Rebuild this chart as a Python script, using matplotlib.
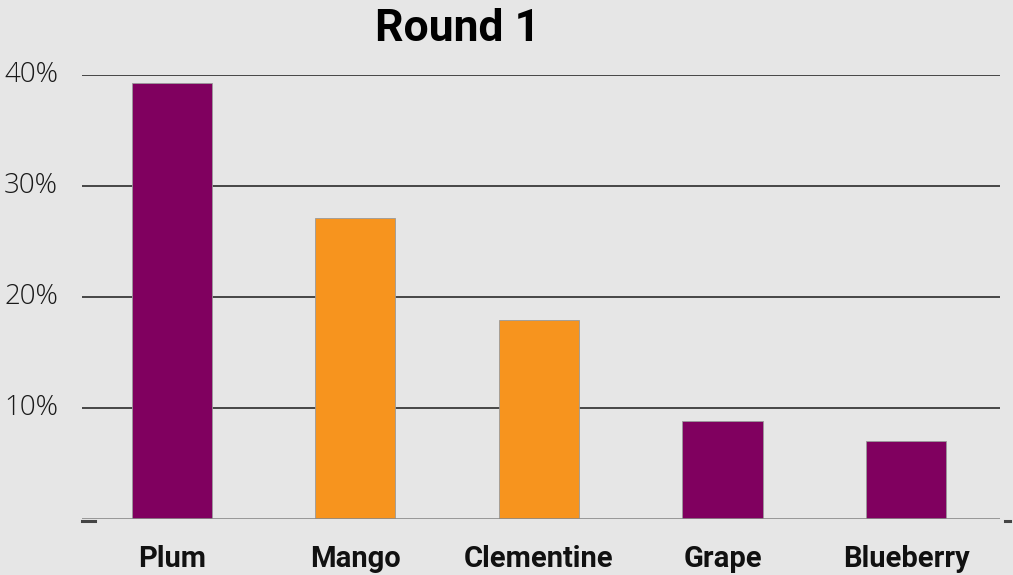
import matplotlib
matplotlib.use("Agg")
import matplotlib.pyplot as plt

categories = ["Plum", "Mango", "Clementine", "Grape", "Blueberry"]
values = [39.3, 27.1, 17.9, 8.8, 7.0]
bar_colors = ["#80005f", "#f7941e", "#f7941e", "#80005f", "#80005f"]
yticks = [10, 20, 30, 40]
ytick_labels = ["10%", "20%", "30%", "40%"]
title = "Round 1"

bg = "#e6e6e6"
fig = plt.figure(figsize=(10.13, 5.75), dpi=100, facecolor=bg)
ax = fig.add_axes([82/1013, 1-519/575, (1000-82)/1013, (519-75)/575])
ax.set_facecolor(bg)

x = list(range(len(categories)))
ax.bar(x, values, width=0.436, color=bar_colors, edgecolor="#9a9a9a", linewidth=0.6, zorder=3)
ax.set_xlim(-0.490, 4.512)
ax.set_ylim(0, 40)

for v in yticks:
    ax.axhline(v, color="#3a3a3a", linewidth=1.3, zorder=1)
ax.axhline(0, color="#8a8a8a", linewidth=1.2, zorder=4)
# small end marks on baseline
ax.plot([0, 0.014], [-0.005, -0.005], color="#444444", linewidth=2.2, transform=ax.transAxes, clip_on=False)
ax.plot([1.005, 1.011], [-0.005, -0.005], color="#444444", linewidth=2.2, transform=ax.transAxes, clip_on=False)

for s in ax.spines.values():
    s.set_visible(False)

ax.set_yticks(yticks)
ax.set_yticklabels(ytick_labels)
ax.tick_params(axis="y", length=0, pad=0)
for lab in ax.get_yticklabels():
    lab.set_fontfamily(["Open Sans", "DejaVu Sans"])
    lab.set_fontweight("light")
    lab.set_fontsize(20)
    lab.set_color("#1a1a1a")
    lab.set_horizontalalignment("left")
    lab.set_x(-82/918 + 4/918)
    lab.set_verticalalignment("center")

ax.set_xticks(x)
ax.set_xticklabels(categories, fontfamily="Roboto", fontweight="bold", fontsize=21, color="#111111")
ax.tick_params(axis="x", length=0, pad=19)

fig.text(458/1013, 1-29/575, title, ha="center", va="center", fontfamily="Roboto",
         fontweight="bold", fontsize=32, color="#000000")

fig.savefig("out.png", dpi=100, facecolor=bg)
